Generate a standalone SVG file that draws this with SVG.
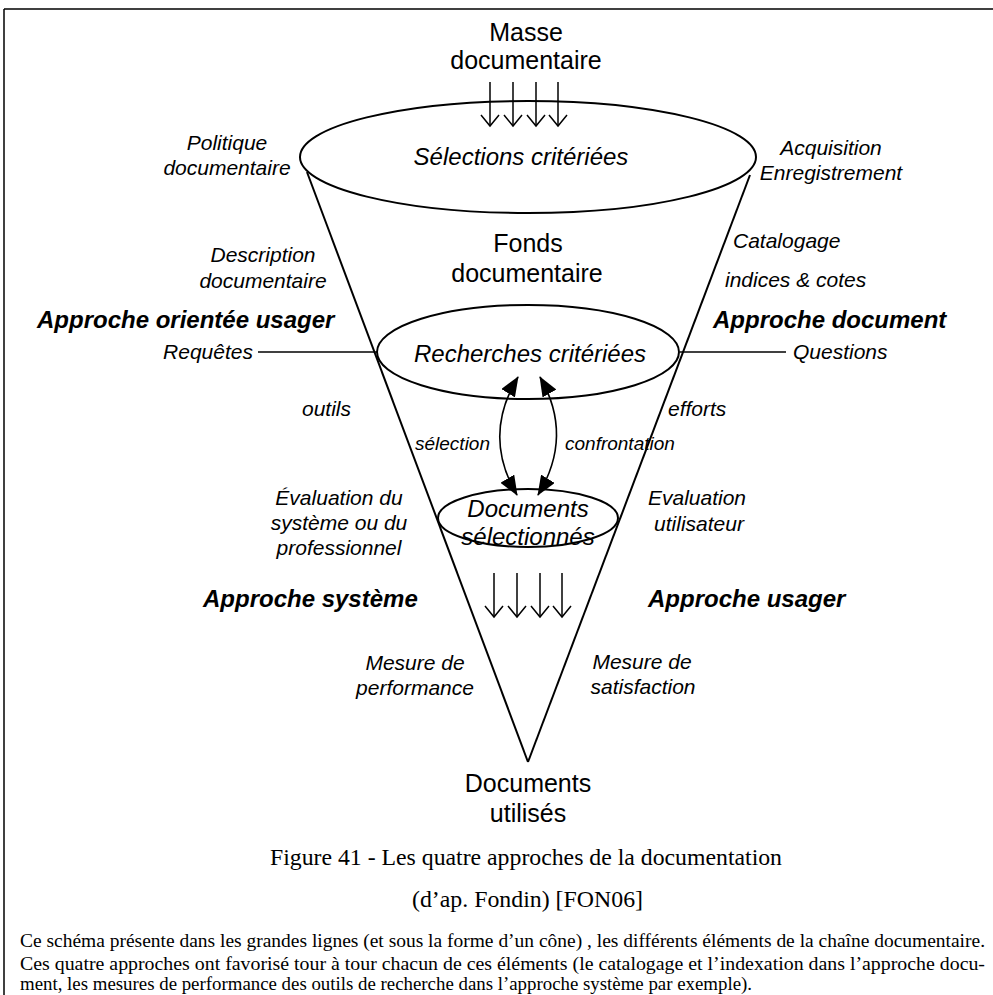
<svg xmlns="http://www.w3.org/2000/svg" width="993" height="995" viewBox="0 0 993 995">
<style>
  .s{font-family:"Liberation Sans",Arial,sans-serif;fill:#000}
  .big{font-size:25px;text-anchor:middle}
  .it{font-style:italic;font-size:21px}
  .mid{text-anchor:middle}
  .bi{font-style:italic;font-weight:bold;font-size:24px}
  .node{font-style:italic;font-size:24px;text-anchor:middle}
  .sm{font-style:italic;font-size:19px}
  .serif{font-family:"Liberation Serif","Times New Roman",serif;fill:#000}
  .shape{fill:none;stroke:#000;stroke-width:2}
  .ln{fill:none;stroke:#000;stroke-width:1.6}
  .ar{fill:none;stroke:#000;stroke-width:1.5}
</style>
<defs>
  <marker id="tri" markerUnits="userSpaceOnUse" markerWidth="20" markerHeight="16" refX="19" refY="8" orient="auto-start-reverse" viewBox="0 0 20 16">
    <path d="M0,0 L20,8 L0,16 z" fill="#000"/>
  </marker>
  <g id="down">
    <line x1="0" y1="0" x2="0" y2="44" class="ar"/>
    <polyline points="-9,33 0,44 9,33" class="ar"/>
  </g>
</defs>
<rect width="993" height="995" fill="#fff"/>
<g id="frame">
  <line x1="4" y1="9" x2="993" y2="9" stroke="#000" stroke-width="1.5"/>
  <line x1="4" y1="9" x2="4" y2="995" stroke="#000" stroke-width="1.5"/>
</g>
<g id="cone">
  <line x1="307" y1="172" x2="528" y2="762" class="shape"/>
  <line x1="750" y1="175" x2="528" y2="762" class="shape"/>
</g>
<g id="masse">
  <text class="s big" x="526" y="41">Masse</text>
  <text class="s big" x="526" y="69">documentaire</text>
</g>
<g id="selections">
  <ellipse cx="528" cy="157" rx="228" ry="56" class="shape"/>
  <text class="s node" x="521" y="165">Sélections critériées</text>
</g>
<g id="fonds">
  <text class="s big" x="528" y="252">Fonds</text>
  <text class="s big" x="527" y="282">documentaire</text>
</g>
<g id="recherches">
  <ellipse cx="528" cy="352" rx="151" ry="47" class="shape"/>
  <text class="s node" x="530" y="362">Recherches critériées</text>
</g>
<g id="documents-selectionnes">
  <ellipse cx="528" cy="518" rx="90" ry="29" class="shape"/>
  <text class="s node" x="528" y="517">Documents</text>
  <text class="s node" x="528" y="545">sélectionnés</text>
</g>
<g id="documents-utilises">
  <text class="s big" x="528" y="792">Documents</text>
  <text class="s big" x="528" y="822">utilisés</text>
</g>
<g id="connectors">
  <use href="#down" x="490" y="82"/>
  <use href="#down" x="513" y="82"/>
  <use href="#down" x="536" y="82"/>
  <use href="#down" x="558" y="82"/>
  <use href="#down" x="494" y="573"/>
  <use href="#down" x="517" y="573"/>
  <use href="#down" x="540" y="573"/>
  <use href="#down" x="562" y="573"/>
  <line x1="258" y1="352" x2="377" y2="352" class="ln"/>
  <line x1="680" y1="352" x2="786" y2="352" class="ln"/>
  <path d="M518,377 Q482,436 517,495" class="ln" marker-start="url(#tri)" marker-end="url(#tri)"/>
  <path d="M540,377 Q574,436 538,495" class="ln" marker-start="url(#tri)" marker-end="url(#tri)"/>
</g>
<g id="labels-left">
  <text class="s it mid" x="227" y="150">Politique</text>
  <text class="s it mid" x="227" y="175">documentaire</text>
  <text class="s it mid" x="263" y="262">Description</text>
  <text class="s it mid" x="263" y="288">documentaire</text>
  <text class="s bi" x="37" y="328">Approche orientée usager</text>
  <text class="s it" x="253" y="359" text-anchor="end">Requêtes</text>
  <text class="s it" x="302" y="416">outils</text>
  <text class="s sm" x="415" y="450">sélection</text>
  <text class="s it mid" x="339" y="505">Évaluation du</text>
  <text class="s it mid" x="339" y="530">système ou du</text>
  <text class="s it mid" x="339" y="555">professionnel</text>
  <text class="s bi" x="203" y="607">Approche système</text>
  <text class="s it mid" x="415" y="670">Mesure de</text>
  <text class="s it mid" x="415" y="695">performance</text>
</g>
<g id="labels-right">
  <text class="s it mid" x="831" y="155">Acquisition</text>
  <text class="s it mid" x="831" y="180">Enregistrement</text>
  <text class="s it" x="733" y="248">Catalogage</text>
  <text class="s it" x="725" y="287">indices &amp; cotes</text>
  <text class="s bi" x="713" y="328">Approche document</text>
  <text class="s it" x="793" y="359">Questions</text>
  <text class="s it" x="668" y="416">efforts</text>
  <text class="s sm" x="565" y="450">confrontation</text>
  <text class="s it mid" x="697" y="505">Evaluation</text>
  <text class="s it mid" x="699" y="531">utilisateur</text>
  <text class="s bi" x="648" y="607">Approche usager</text>
  <text class="s it mid" x="642" y="669">Mesure de</text>
  <text class="s it mid" x="643" y="694">satisfaction</text>
</g>
<g id="caption">
  <text class="serif" x="270" y="865" font-size="24" textLength="512" lengthAdjust="spacingAndGlyphs">Figure 41 - Les quatre approches de la documentation</text>
  <text class="serif" x="412" y="907" font-size="24" textLength="231" lengthAdjust="spacingAndGlyphs">(d’ap. Fondin) [FON06]</text>
  <text class="serif" x="20" y="947" font-size="19" textLength="965" lengthAdjust="spacingAndGlyphs">Ce schéma présente dans les grandes lignes (et sous la forme d’un cône) , les différents éléments de la chaîne documentaire.</text>
  <text class="serif" x="20" y="970" font-size="19" textLength="965" lengthAdjust="spacingAndGlyphs">Ces quatre approches ont favorisé tour à tour chacun de ces éléments (le catalogage et l’indexation dans l’approche docu-</text>
  <text class="serif" x="20" y="990" font-size="19" textLength="732" lengthAdjust="spacingAndGlyphs">ment, les mesures de performance des outils de recherche dans l’approche système par exemple).</text>
</g>
</svg>
